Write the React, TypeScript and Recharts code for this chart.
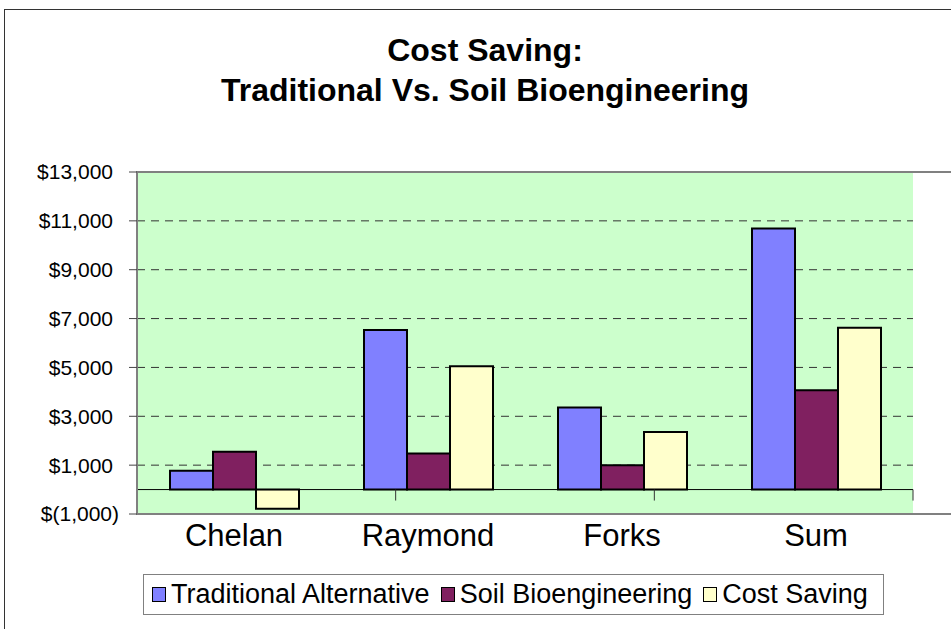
import React from 'react';
import { BarChart, Bar, XAxis, YAxis, CartesianGrid, ReferenceLine, ReferenceArea, Legend } from 'recharts';

const categories = ['Chelan', 'Raymond', 'Forks', 'Sum'];
const traditional = [770, 6530, 3360, 10690];
const soil = [1550, 1480, 1000, 4070];
const saving = [-780, 5050, 2360, 6620];
const yTicks = [-1000, 1000, 3000, 5000, 7000, 9000, 11000, 13000];
const seriesNames = ['Traditional Alternative', 'Soil Bioengineering', 'Cost Saving'];
const colors = ['#8080FF', '#802060', '#FFFFCC'];

const data = categories.map((c, i) => ({
  name: c,
  trad: traditional[i],
  soil: soil[i],
  save: saving[i],
}));

const FONT = '"Liberation Sans", Arial, sans-serif';

const fmt = (v: number) =>
  v < 0 ? `$(${Math.abs(v).toLocaleString('en-US')})` : `$${v.toLocaleString('en-US')}`;

const YTick = (props: any) => {
  const { x, y, payload } = props;
  const v = payload.value as number;
  return (
    <text x={v < 0 ? x + 6 : x} y={y} dy="0.355em" textAnchor="end" fontSize={21} fill="#000" fontFamily={FONT}>
      {fmt(v)}
    </text>
  );
};

const XTick = (props: any) => {
  const { x, y, payload } = props;
  return (
    <text x={x} y={y} dy="0.71em" textAnchor="middle" fontSize={31} fill="#000" fontFamily={FONT}>
      {payload.value}
    </text>
  );
};

const LegendContent = () => (
  <div
    style={{
      boxSizing: 'border-box',
      width: '100%',
      height: '100%',
      border: '1.5px solid #808080',
      background: '#fff',
      display: 'flex',
      alignItems: 'center',
      paddingLeft: 8,
      fontFamily: FONT,
      fontSize: 27,
      color: '#000',
      whiteSpace: 'nowrap',
    }}
  >
    {seriesNames.map((n, i) => (
      <div key={n} style={{ display: 'flex', alignItems: 'center', marginRight: 11 }}>
        <div
          style={{
            width: 12,
            height: 13,
            background: colors[i],
            border: '1.5px solid #000',
            marginRight: 5,
          }}
        />
        <span>{n}</span>
      </div>
    ))}
  </div>
);

export default function App() {
  return (
    <div style={{ position: 'absolute', left: 0, top: 0, width: 951, height: 629, overflow: 'hidden', background: '#fff' }}>
      <div
        style={{
          position: 'absolute',
          left: 4,
          top: 9,
          width: 1000,
          height: 700,
          border: '1.5px solid #333',
        }}
      />
      <div
        style={{
          position: 'absolute',
          left: 0,
          top: 30,
          width: 970,
          textAlign: 'center',
          fontFamily: FONT,
          fontWeight: 'bold',
          fontSize: 32,
          lineHeight: '40px',
          color: '#000',
        }}
      >
        <div>Cost Saving:</div>
        <div>Traditional Vs. Soil Bioengineering</div>
      </div>
      <div style={{ position: 'absolute', left: 0, top: 0 }}>
        <BarChart
          width={951}
          height={629}
          data={data}
          margin={{ top: 172, right: 38, bottom: 70, left: 10 }}
          barGap={0}
          barSize={43}
        >
          <CartesianGrid
            vertical={false}
            horizontal={true}
            stroke="#333"
            strokeDasharray="8 6"
            fill="#CCFFCC"
            fillOpacity={1}
          />
          <XAxis
            dataKey="name"
            height={45}
            axisLine={false}
            tickLine={false}
            tickSize={0}
            tickMargin={10}
            tick={<XTick />}
            interval={0}
          />
          <XAxis xAxisId="n" type="number" domain={[0, 4]} hide />
          <YAxis
            width={127}
            domain={[-1000, 13000]}
            ticks={yTicks}
            interval={0}
            axisLine={{ stroke: '#808080', strokeWidth: 2 }}
            tickLine={{ stroke: '#444' }}
            tickSize={8}
            tickMargin={16}
            tick={<YTick />}
          />
          <ReferenceArea
            xAxisId="n"
            x1={0}
            x2={4}
            y1={-1000}
            y2={13000}
            fill="none"
            stroke="#808080"
            strokeWidth={2}
            ifOverflow="visible"
          />
          <ReferenceLine y={0} stroke="#000" strokeWidth={1} />
          {[1, 2, 3, 4].map((k) => (
            <ReferenceLine
              key={k}
              xAxisId="n"
              segment={[
                { x: k, y: 0 },
                { x: k, y: -450 },
              ]}
              stroke="#333"
              strokeWidth={1}
            />
          ))}
          <Bar dataKey="trad" name={seriesNames[0]} fill={colors[0]} stroke="#000" strokeWidth={2} isAnimationActive={false} />
          <Bar dataKey="soil" name={seriesNames[1]} fill={colors[1]} stroke="#000" strokeWidth={2} isAnimationActive={false} />
          <Bar dataKey="save" name={seriesNames[2]} fill={colors[2]} stroke="#000" strokeWidth={2} isAnimationActive={false} />
          <Legend
            layout="vertical"
            align="center"
            verticalAlign="middle"
            content={<LegendContent />}
            wrapperStyle={{ position: 'absolute', left: 143, top: 574, width: 741, height: 41 }}
          />
        </BarChart>
      </div>
    </div>
  );
}
